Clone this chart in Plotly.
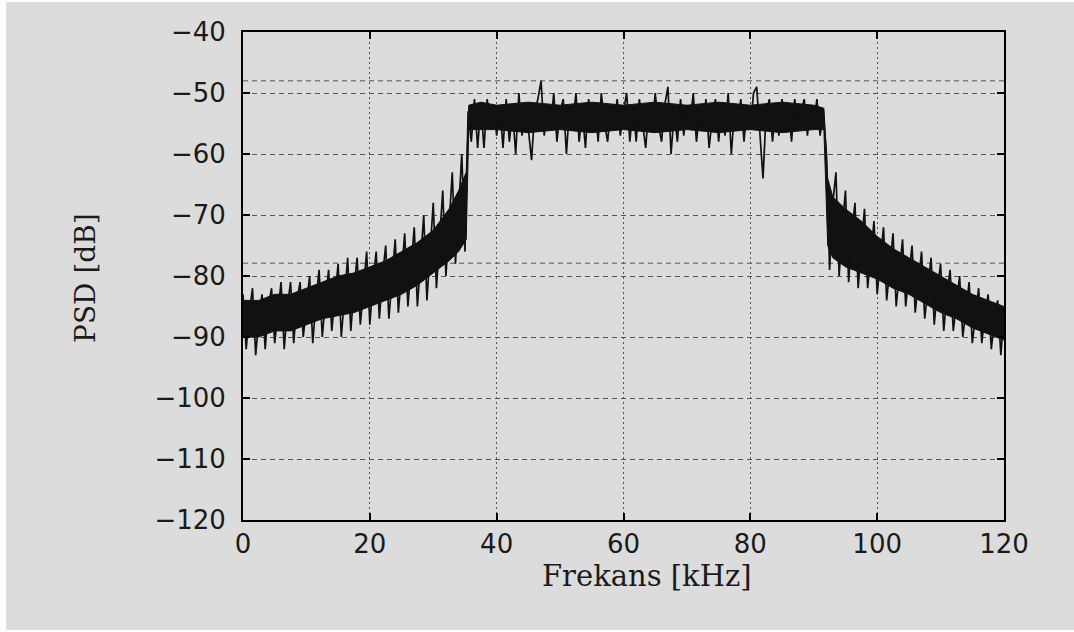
import plotly.graph_objects as go

# Frequency grid (kHz), 0.5 kHz spacing
freq_step = 0.5
freq_khz = [i * freq_step for i in range(241)]

# PSD values (dB), 20 values per 10 kHz
psd_0_10 = [-83, -92, -86, -82, -93, -87, -83, -92, -85, -82,
            -91, -86, -81, -92, -85, -81, -91, -84, -81, -90]
psd_10_20 = [-85, -80, -91, -84, -79, -90, -84, -79, -89, -83,
             -78, -90, -83, -77, -89, -82, -77, -88, -82, -76]
psd_20_30 = [-88, -81, -76, -87, -80, -75, -87, -80, -74, -86,
             -79, -73, -85, -78, -72, -85, -77, -70, -84, -76]
psd_30_40 = [-68, -82, -74, -66, -80, -72, -63, -78, -69, -60,
             -76, -53, -58, -51, -59, -52, -59, -51, -55, -52]
psd_40_50 = [-57, -52, -59, -51, -58, -53, -60, -50, -57, -52,
             -56, -61, -53, -51, -48, -57, -52, -56, -50, -58]
psd_50_60 = [-53, -51, -60, -52, -55, -50, -58, -53, -59, -51,
             -56, -52, -58, -50, -55, -58, -52, -56, -51, -57]
psd_60_70 = [-53, -50, -58, -52, -58, -51, -55, -59, -52, -56,
             -50, -55, -58, -52, -49, -60, -53, -58, -51, -57]
psd_70_80 = [-52, -55, -50, -58, -53, -56, -51, -59, -54, -51,
             -58, -52, -57, -50, -60, -53, -55, -51, -58, -52]
psd_80_90 = [-56, -50, -49, -57, -64, -53, -51, -58, -52, -57,
             -51, -55, -52, -58, -51, -56, -53, -51, -57, -52]
psd_90_100 = [-55, -51, -57, -53, -60, -79, -68, -63, -80, -72,
              -66, -81, -73, -68, -82, -75, -69, -82, -76, -71]
psd_100_110 = [-83, -77, -72, -84, -78, -73, -85, -79, -74, -85,
               -80, -75, -86, -81, -76, -87, -82, -77, -88, -82]
psd_110_120 = [-78, -89, -83, -79, -89, -84, -80, -90, -85, -81,
               -91, -86, -82, -91, -86, -83, -92, -87, -84, -93, -86]

psd_db = (psd_0_10 + psd_10_20 + psd_20_30 + psd_30_40 + psd_40_50 + psd_50_60
          + psd_60_70 + psd_70_80 + psd_80_90 + psd_90_100 + psd_100_110 + psd_110_120)

# Dense (solid-looking) core of the noisy PSD trace
core_f = [0, 2.5, 5, 7.5, 10, 12.5, 15, 17.5, 20, 22.5, 25, 27.5, 30, 32.5,
          34, 35.2, 35.6, 37.5, 40, 45, 50, 55, 60, 65, 70, 75, 80, 85, 90,
          91.6, 92.2, 93, 95, 97.5, 100, 102.5, 105, 107.5, 110, 112.5, 115, 117.5, 120]
core_upper = [-84, -84, -83, -83, -82, -81, -80, -79.5, -78.5, -77.5, -76, -74.5, -72.5, -69,
              -66, -63, -52, -51.5, -52, -51.5, -52, -51.5, -52, -51.5, -52, -51.5, -52, -51.5, -52,
              -52.5, -64, -67, -69, -71, -73.5, -75.5, -77, -78.5, -80, -81.5, -83, -84, -85]
core_lower = [-90, -90, -89, -89, -88, -87, -86.5, -86, -85, -84, -83, -81.5, -79.5, -77.5,
              -76, -74, -56, -56, -56, -56.5, -56, -56.5, -56, -56.5, -56, -56.5, -56, -56.5, -56,
              -56, -75, -77, -78.5, -79.5, -80.5, -82, -83, -84.5, -86, -87, -88.5, -89.5, -90.5]

x_ticks = [0, 20, 40, 60, 80, 100, 120]
y_ticks = [-40, -50, -60, -70, -80, -90, -100, -110, -120]
x_title = "Frekans [kHz]"
y_title = "PSD [dB]"

BG = "#dcdcdc"
GRID = "#555555"
INK = "#111111"

fig = go.Figure()
fig.add_trace(go.Scatter(
    x=core_f, y=core_lower, mode="lines", line=dict(color=INK, width=1),
    showlegend=False, hoverinfo="skip",
))
fig.add_trace(go.Scatter(
    x=core_f, y=core_upper, mode="lines", line=dict(color=INK, width=1),
    fill="tonexty", fillcolor=INK, showlegend=False, hoverinfo="skip",
))
fig.add_trace(go.Scatter(
    x=freq_khz, y=psd_db, mode="lines",
    line=dict(color=INK, width=1.7),
    showlegend=False, hoverinfo="skip",
))

tick_font = dict(family="DejaVu Sans", size=26, color="#1a1a1a")

fig.update_xaxes(
    range=[0, 120], tickvals=x_ticks, ticks="inside", ticklen=7, tickwidth=2,
    tickcolor="black", showline=True, linecolor="black", linewidth=2, mirror="ticks",
    showgrid=True, gridcolor=GRID, gridwidth=1, griddash="2px,3px",
    zeroline=False, tickfont=tick_font, ticklabelstandoff=0,
)
fig.update_yaxes(
    range=[-120, -40], tickvals=y_ticks, ticks="inside", ticklen=7, tickwidth=2,
    tickcolor="black", showline=True, linecolor="black", linewidth=2, mirror="ticks",
    showgrid=True, gridcolor=GRID, gridwidth=1, griddash="5px,4px",
    zeroline=False, tickfont=tick_font, ticklabelstandoff=10,
)

# grey page with thin white border as in the reference
shapes = [dict(type="rect", xref="paper", yref="paper", x0=-0.3114, x1=1.10,
               y0=-0.2254, y1=1.0615, fillcolor=BG, line=dict(width=0), layer="below")]
# duplicated dashed grid artefacts visible in the reference
for yv in (-48, -77.9):
    shapes.append(dict(type="line", xref="paper", yref="y", x0=0, x1=1, y0=yv, y1=yv,
                       line=dict(color=GRID, width=1, dash="5px,4px"), layer="below"))

fig.update_layout(
    width=1074, height=632,
    margin=dict(l=243, r=70, t=32, b=112),
    paper_bgcolor="white", plot_bgcolor=BG,
    shapes=shapes,
    annotations=[
        dict(text=x_title, xref="paper", yref="paper", x=0.531, y=-0.114,
             showarrow=False, xanchor="center", yanchor="middle",
             font=dict(family="DejaVu Serif", size=29, color="#1a1a1a")),
        dict(text=y_title, xref="paper", yref="paper", x=-0.2063, y=0.496,
             showarrow=False, xanchor="center", yanchor="middle", textangle=-90,
             font=dict(family="DejaVu Serif", size=28, color="#1a1a1a")),
    ],
)

fig.write_html("out.html")
